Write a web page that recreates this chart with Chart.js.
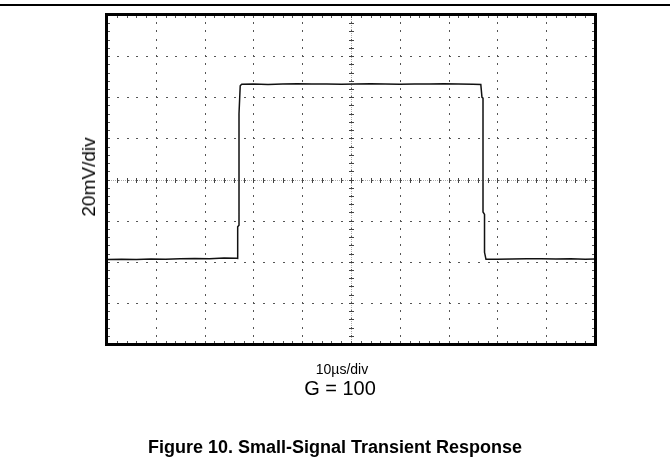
<!DOCTYPE html>
<html>
<head>
<meta charset="utf-8">
<script src="https://cdn.jsdelivr.net/npm/chart.js@4/dist/chart.umd.min.js"></script>
<style>
  body { margin: 0; background: #fff; font-family: "Liberation Sans", Arial, sans-serif; }
  #wrap { position: relative; width: 671px; height: 462px; }
  #rule { position: absolute; left: 0; top: 4px; width: 670px; height: 0; border-top: 2px solid #000; }
  .lbl { position: absolute; white-space: nowrap; color: #000; transform: translate(-50%, -50%); }
  #ylab { left: 89px; top: 177px; font-size: 19px; transform: translate(-50%, -50%) rotate(-90deg); }
  #xlab { left: 342px; top: 369px; font-size: 14px; }
  #gain { left: 340px; top: 388px; font-size: 20px; }
  #caption { left: 335px; top: 447px; font-size: 18px; font-weight: bold; }
</style>
</head>
<body>
<div id="wrap">
  <canvas id="scope" width="671" height="462"></canvas>
  <div id="rule"></div>
  <div class="lbl" id="ylab">20mV/div</div>
  <div class="lbl" id="xlab">10µs/div</div>
  <div class="lbl" id="gain">G = 100</div>
  <div class="lbl" id="caption">Figure 10. Small-Signal Transient Response</div>
</div>
<script>
// scope screen: 10 div x 10us, 8 div x 20mV
const timeUs = [0, 3, 6, 9, 12, 15, 18, 21, 24, 26.5, 26.78,
  26.78, 27.05, 27.05, 27.3, 27.6,
  30, 33, 36, 39, 42, 45, 48, 51, 54, 57, 60, 63, 66, 69, 72, 75, 76.6,
  76.84, 77.05, 77.05, 77.36, 77.36, 77.66,
  80, 83, 86, 89, 92, 95, 98, 100];
const outputMv = [-38.9, -38.8, -38.9, -38.7, -38.8, -38.6, -38.4, -38.5, -38.2, -38.3, -38.4,
  -23.0, -22.2, 32.0, 45.6, 46.3,
  46.4, 46.2, 46.5, 46.6, 46.4, 46.5, 46.3, 46.5, 46.6, 46.4, 46.3, 46.5, 46.4, 46.6, 46.4, 46.3, 46.2,
  40.0, 39.6, -15.8, -17.0, -35.4, -38.8,
  -38.8, -38.7, -38.5, -38.6, -38.7, -38.6, -38.8, -38.7];
const xDivs = [0, 10, 20, 30, 40, 50, 60, 70, 80, 90, 100];
const yDivs = [-80, -60, -40, -20, 0, 20, 40, 60, 80];

const points = timeUs.map((t, i) => ({ x: t, y: outputMv[i] }));

const scopeGrid = {
  id: 'scopeGrid',
  beforeDatasetsDraw(chart) {
    const { ctx, chartArea: a, scales: { x, y } } = chart;
    const xMinor = [], yMinor = [];
    for (let i = 0; i < xDivs.length - 1; i++)
      for (let k = 0; k < 5; k++) xMinor.push(xDivs[i] + (xDivs[i + 1] - xDivs[i]) * k / 5);
    xMinor.push(xDivs[xDivs.length - 1]);
    for (let i = 0; i < yDivs.length - 1; i++)
      for (let k = 0; k < 5; k++) yMinor.push(yDivs[i] + (yDivs[i + 1] - yDivs[i]) * k / 5);
    yMinor.push(yDivs[yDivs.length - 1]);
    const xc = Math.round(x.getPixelForValue(50));
    const yc = Math.round(y.getPixelForValue(0));
    ctx.save();
    // faint centre lines
    ctx.fillStyle = '#aaa';
    for (let px = Math.round(a.left); px < a.right; px += 2) ctx.fillRect(px, yc, 1, 1);
    for (let py = Math.round(a.top); py < a.bottom; py += 2) ctx.fillRect(xc, py, 1, 1);
    // dotted graticule
    ctx.fillStyle = '#555';
    xDivs.slice(1, -1).forEach(v => {
      const px = Math.round(x.getPixelForValue(v));
      yMinor.forEach(w => ctx.fillRect(px, Math.round(y.getPixelForValue(w)) - 1, 1, 2));
    });
    yDivs.slice(1, -1).forEach(v => {
      const py = Math.round(y.getPixelForValue(v));
      xMinor.forEach(w => ctx.fillRect(Math.round(x.getPixelForValue(w)), py, 2, 1));
    });
    // centre cross ticks
    ctx.fillStyle = '#444';
    xMinor.forEach(w => ctx.fillRect(Math.round(x.getPixelForValue(w)), yc - 2, 1, 5));
    yMinor.forEach(w => ctx.fillRect(xc - 2, Math.round(y.getPixelForValue(w)), 5, 1));
    // edge ticks
    ctx.fillStyle = '#555';
    xMinor.forEach(w => {
      const px = Math.round(x.getPixelForValue(w));
      ctx.fillRect(px, a.top, 1, 3);
      ctx.fillRect(px, a.bottom - 3, 1, 3);
    });
    yMinor.forEach(w => {
      const py = Math.round(y.getPixelForValue(w));
      ctx.fillRect(a.left, py, 3, 1);
      ctx.fillRect(a.right - 3, py, 3, 1);
    });
    ctx.restore();
  },
  afterDraw(chart) {
    const { ctx, chartArea: a } = chart;
    ctx.save();
    ctx.strokeStyle = '#000';
    ctx.lineWidth = 3;
    ctx.strokeRect(a.left - 0.5, a.top - 0.5, a.right - a.left + 1, a.bottom - a.top + 1);
    ctx.restore();
  }
};

new Chart(document.getElementById('scope').getContext('2d'), {
  type: 'line',
  data: {
    datasets: [{
      data: points,
      borderColor: '#111',
      borderWidth: 1.5,
      pointRadius: 0,
      tension: 0
    }]
  },
  options: {
    responsive: false,
    animation: false,
    layout: { padding: { left: 107, top: 15, right: 76, bottom: 118 } },
    plugins: { legend: { display: false }, tooltip: { enabled: false } },
    scales: {
      x: {
        type: 'linear', min: 0, max: 100,
        ticks: { display: false },
        grid: { display: false, drawTicks: false },
        border: { display: false }
      },
      y: {
        type: 'linear', min: -80, max: 80,
        ticks: { display: false },
        grid: { display: false, drawTicks: false },
        border: { display: false }
      }
    }
  },
  plugins: [scopeGrid]
});
</script>
</body>
</html>
